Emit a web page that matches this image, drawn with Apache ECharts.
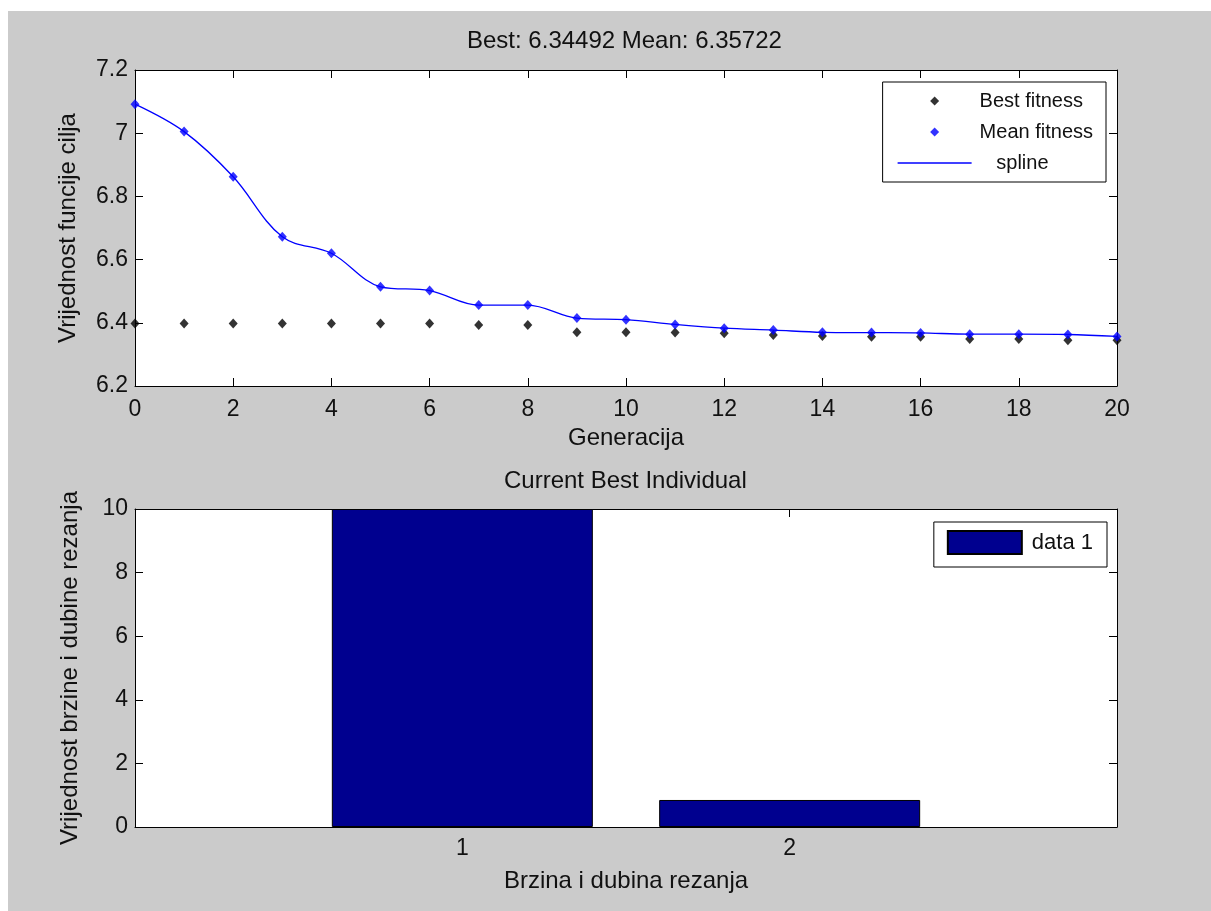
<!DOCTYPE html>
<html>
<head>
<meta charset="utf-8">
<script src="https://cdn.jsdelivr.net/npm/echarts@6/dist/echarts.min.js"></script>
<style>
html,body{margin:0;padding:0;background:#ffffff;}
#chart{position:absolute;left:8px;top:11px;width:1203px;height:900px;background:#cbcbcb;}
</style>
</head>
<body>
<div id="chart"></div>
<script>
// ---- data ----
var generations = [0,1,2,3,4,5,6,7,8,9,10,11,12,13,14,15,16,17,18,19,20];
var bestFitness = [6.398,6.398,6.398,6.398,6.398,6.398,6.398,6.393,6.393,6.370,6.370,6.369,6.367,6.361,6.358,6.356,6.356,6.349,6.349,6.345,6.345];
var meanFitness = [7.092,7.005,6.862,6.672,6.620,6.514,6.502,6.456,6.456,6.415,6.410,6.395,6.383,6.377,6.370,6.369,6.368,6.364,6.364,6.363,6.357];
var barPositions = [1, 2];
var barValues = [10, 0.85];
var topTitle = 'Best: 6.34492 Mean: 6.35722';
var bottomTitle = 'Current Best Individual';

function pairs(xs, ys){ return xs.map(function(x,i){ return [x, ys[i]]; }); }

var FONT = '"Liberation Sans", Arial, sans-serif';
var TXT = '#111111';
var axisLine = {show:true, onZero:false, lineStyle:{color:'#000', width:1}};
var tick = {show:true, inside:true, length:8, lineStyle:{color:'#000', width:1}};
var DIAMOND = 'path://M0,0L1,1L0,2L-1,1Z';
var HLINE = 'path://M0,0H60V1.3H0Z';

function mirrorX(grid, min, max, interval){
  return {type:'value', gridIndex:grid, position:'top', min:min, max:max, interval:interval,
    axisLine:axisLine, axisTick:tick, axisLabel:{show:false}, splitLine:{show:false}};
}
function mirrorY(grid, min, max, interval){
  return {type:'value', gridIndex:grid, position:'right', min:min, max:max, interval:interval,
    axisLine:axisLine, axisTick:tick, axisLabel:{show:false}, splitLine:{show:false}};
}

var chart = echarts.init(document.getElementById('chart'), null, {renderer:'canvas'});
var option = {
  animation:false,
  backgroundColor:'#cbcbcb',
  textStyle:{fontFamily:FONT, color:TXT},
  title:[
    {text:topTitle, left:459, top:18, padding:0, textStyle:{fontFamily:FONT, fontSize:24, fontWeight:'normal', color:TXT}},
    {text:bottomTitle, left:496, top:458, padding:0, textStyle:{fontFamily:FONT, fontSize:24, fontWeight:'normal', color:TXT}}
  ],
  legend:[
    {data:[{name:'Best fitness', icon:DIAMOND},{name:'Mean fitness', icon:DIAMOND},{name:'spline', icon:HLINE}],
     orient:'vertical', right:105, top:71,
     padding:[9,13,9,15], itemGap:11, itemWidth:74, itemHeight:9,
     formatter:function(n){ return n === 'spline' ? '   spline' : n; },
     backgroundColor:'#fff', borderColor:'#000', borderWidth:1,
     textStyle:{fontFamily:FONT, fontSize:20, color:TXT, padding:[0,0,0,3]}, selectedMode:false},
    {data:[{name:'data 1', icon:'rect'}], orient:'vertical', right:104, top:511,
     padding:[8,14,12,13], itemWidth:74, itemHeight:23,
     backgroundColor:'#fff', borderColor:'#000', borderWidth:1,
     textStyle:{fontFamily:FONT, fontSize:22, color:TXT, padding:[0,0,0,5]}, selectedMode:false}
  ],
  grid:[
    {left:127, right:94, top:59, height:316, show:true, backgroundColor:'#fff', borderWidth:0},
    {left:127, right:94, top:498, height:318, show:true, backgroundColor:'#fff', borderWidth:0}
  ],
  xAxis:[
    {type:'value', gridIndex:0, position:'bottom', min:0, max:20, interval:2,
     name:'Generacija', nameLocation:'middle', nameGap:40,
     nameTextStyle:{fontFamily:FONT, fontSize:24, color:TXT},
     axisLine:axisLine, axisTick:tick,
     axisLabel:{fontFamily:FONT, fontSize:23, color:TXT, margin:12}, splitLine:{show:false}},
    mirrorX(0, 0, 20, 2),
    {type:'value', gridIndex:1, position:'bottom', min:0, max:3, interval:1,
     name:'Brzina i dubina rezanja', nameLocation:'middle', nameGap:42,
     nameTextStyle:{fontFamily:FONT, fontSize:24, color:TXT},
     axisLine:axisLine, axisTick:tick,
     axisLabel:{fontFamily:FONT, fontSize:23, color:TXT, margin:10,
       formatter:function(v){ return barPositions.indexOf(v) >= 0 ? String(v) : ''; }},
     splitLine:{show:false}},
    mirrorX(1, 0, 3, 1)
  ],
  yAxis:[
    {type:'value', gridIndex:0, position:'left', min:6.2, max:7.2, interval:0.2,
     name:'Vrijednost funcije cilja', nameLocation:'middle', nameGap:55,
     nameTextStyle:{fontFamily:FONT, fontSize:24, color:TXT},
     axisLine:axisLine, axisTick:tick,
     axisLabel:{fontFamily:FONT, fontSize:23, color:TXT, margin:7,
       formatter:function(v){ return String(Math.round(v*10)/10); }},
     splitLine:{show:false}},
    mirrorY(0, 6.2, 7.2, 0.2),
    {type:'value', gridIndex:1, position:'left', min:0, max:10, interval:2,
     name:'Vrijednost brzine i dubine rezanja', nameLocation:'middle', nameGap:53,
     nameTextStyle:{fontFamily:FONT, fontSize:24, color:TXT},
     axisLine:axisLine, axisTick:tick,
     axisLabel:{fontFamily:FONT, fontSize:23, color:TXT, margin:7}, splitLine:{show:false}},
    mirrorY(1, 0, 10, 2)
  ],
  series:[
    {name:'spline', type:'line', xAxisIndex:0, yAxisIndex:0, data:pairs(generations, meanFitness),
     smooth:0.35, symbol:'none', showSymbol:false, z:2, silent:true,
     lineStyle:{color:'#0000ff', width:1.3}, itemStyle:{color:'#0000ff'}},
    {name:'Best fitness', type:'scatter', xAxisIndex:0, yAxisIndex:0, data:pairs(generations, bestFitness),
     symbol:'diamond', symbolSize:[9,10], z:3, silent:true, itemStyle:{color:'#000000'}},
    {name:'Mean fitness', type:'scatter', xAxisIndex:0, yAxisIndex:0, data:pairs(generations, meanFitness),
     symbol:'diamond', symbolSize:[9,10], z:4, silent:true, itemStyle:{color:'#0000ff'}},
    {name:'data 1', type:'bar', xAxisIndex:2, yAxisIndex:2, data:pairs(barPositions, barValues),
     barWidth:261, silent:true, itemStyle:{color:'#00008f', borderColor:'#000', borderWidth:1}}
  ]
};
chart.setOption(option);
</script>
</body>
</html>
